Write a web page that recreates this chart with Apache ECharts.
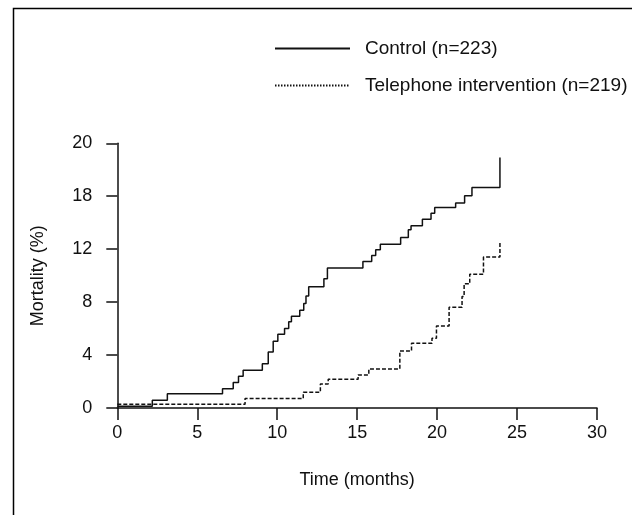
<!DOCTYPE html>
<html>
<head>
<meta charset="utf-8">
<script src="https://cdn.jsdelivr.net/npm/echarts@6/dist/echarts.min.js"></script>
<style>html,body{margin:0;padding:0;background:#fff}#c{width:632px;height:515px}</style>
</head>
<body>
<div id="c"></div>
<script>
var controlTimes = [0, 2.19, 3.13, 6.58, 7.25, 7.58, 7.87, 9.07, 9.44, 9.75, 10.04, 10.46, 10.72, 10.89, 11.41, 11.66, 11.80, 11.97, 12.92, 13.14, 15.36, 15.91, 16.16, 16.45, 17.72, 18.2, 18.37, 19.08, 19.62, 19.85, 21.16, 21.72, 22.18, 23.93];
var controlValues = [0.13, 0.58, 1.08, 1.46, 1.92, 2.40, 2.85, 3.35, 4.24, 5.04, 5.57, 6.00, 6.51, 6.94, 7.39, 7.89, 8.47, 9.16, 9.76, 10.57, 11.07, 11.52, 11.95, 12.38, 12.88, 13.46, 13.77, 14.27, 14.72, 15.15, 15.48, 16.03, 16.66, 18.93];
var phoneTimes = [0, 7.99, 11.63, 12.7, 13.19, 15.06, 15.73, 17.67, 18.4, 19.68, 19.96, 20.75, 21.56, 21.69, 22.04, 22.9, 23.93];
var phoneValues = [0.28, 0.71, 1.19, 1.82, 2.17, 2.50, 2.95, 4.31, 4.89, 5.27, 6.20, 7.61, 8.42, 9.38, 10.11, 11.40, 12.58];
var seriesNames = ['Control (n=223)', 'Telephone intervention (n=219)'];
var yTickLabels = ['0', '4', '8', '12', '18', '20'];
var xTickLabels = ['0', '5', '10', '15', '20', '25', '30'];

function zip(a, b) { return a.map(function (t, i) { return [t, b[i]]; }); }

var font = 'Liberation Sans, Arial, sans-serif';
var ink = '#111';
var clear = 'rgba(0,0,0,0)';
var chart = echarts.init(document.getElementById('c'), null, {renderer: 'canvas'});
chart.setOption({
  animation: false,
  backgroundColor: '#fff',
  graphic: [{
    type: 'rect', shape: {x: 13.5, y: 8.5, width: 700, height: 600},
    style: {fill: 'none', stroke: '#000', lineWidth: 1.5}, silent: true
  }],
  legend: {
    show: true,
    orient: 'vertical', left: 269, top: 34, itemWidth: 75, itemHeight: 14, itemGap: 18,
    textStyle: {fontFamily: font, fontSize: 19, color: ink, padding: [0, 0, 0, 10]},
    data: [
      {name: seriesNames[0], itemStyle: {color: clear, borderColor: clear, borderWidth: 0}},
      {name: seriesNames[1], itemStyle: {color: clear, borderColor: clear, borderWidth: 0}, lineStyle: {type: [1.5, 1.5]}}
    ]
  },
  grid: {left: 117.3, right: 35, top: 143.3, bottom: 107, containLabel: false},
  xAxis: {
    type: 'value', min: 0, max: 30, interval: 5,
    name: 'Time (months)', nameLocation: 'middle', nameGap: 63,
    nameTextStyle: {fontFamily: font, fontSize: 18, color: ink},
    axisLine: {show: true, onZero: false, lineStyle: {color: ink, width: 1.5}},
    axisTick: {show: true, length: 12, lineStyle: {color: ink, width: 1.5}},
    axisLabel: {fontFamily: font, fontSize: 18, color: ink, margin: 16,
      formatter: function (v) { return xTickLabels[Math.round(v / 5)]; }},
    splitLine: {show: false}
  },
  yAxis: {
    type: 'value', min: 0, max: 20, interval: 4,
    name: 'Mortality (%)', nameLocation: 'middle', nameGap: 70,
    nameTextStyle: {fontFamily: font, fontSize: 18, color: ink},
    axisLine: {show: true, lineStyle: {color: ink, width: 1.5}},
    axisTick: {show: true, length: 11, lineStyle: {color: ink, width: 1.5}},
    axisLabel: {fontFamily: font, fontSize: 18, color: ink, margin: 25,
      formatter: function (v) { return yTickLabels[Math.round(v / 4)]; }},
    splitLine: {show: false}
  },
  series: [
    {name: seriesNames[0], type: 'line', step: 'end', symbol: 'none', data: zip(controlTimes, controlValues),
      lineStyle: {color: ink, width: 1.5, type: 'solid'}, itemStyle: {color: ink}},
    {name: seriesNames[1], type: 'line', step: 'end', symbol: 'none', data: zip(phoneTimes, phoneValues),
      lineStyle: {color: ink, width: 1.5, type: [4, 2]}, itemStyle: {color: ink}}
  ]
});
</script>
</body>
</html>
